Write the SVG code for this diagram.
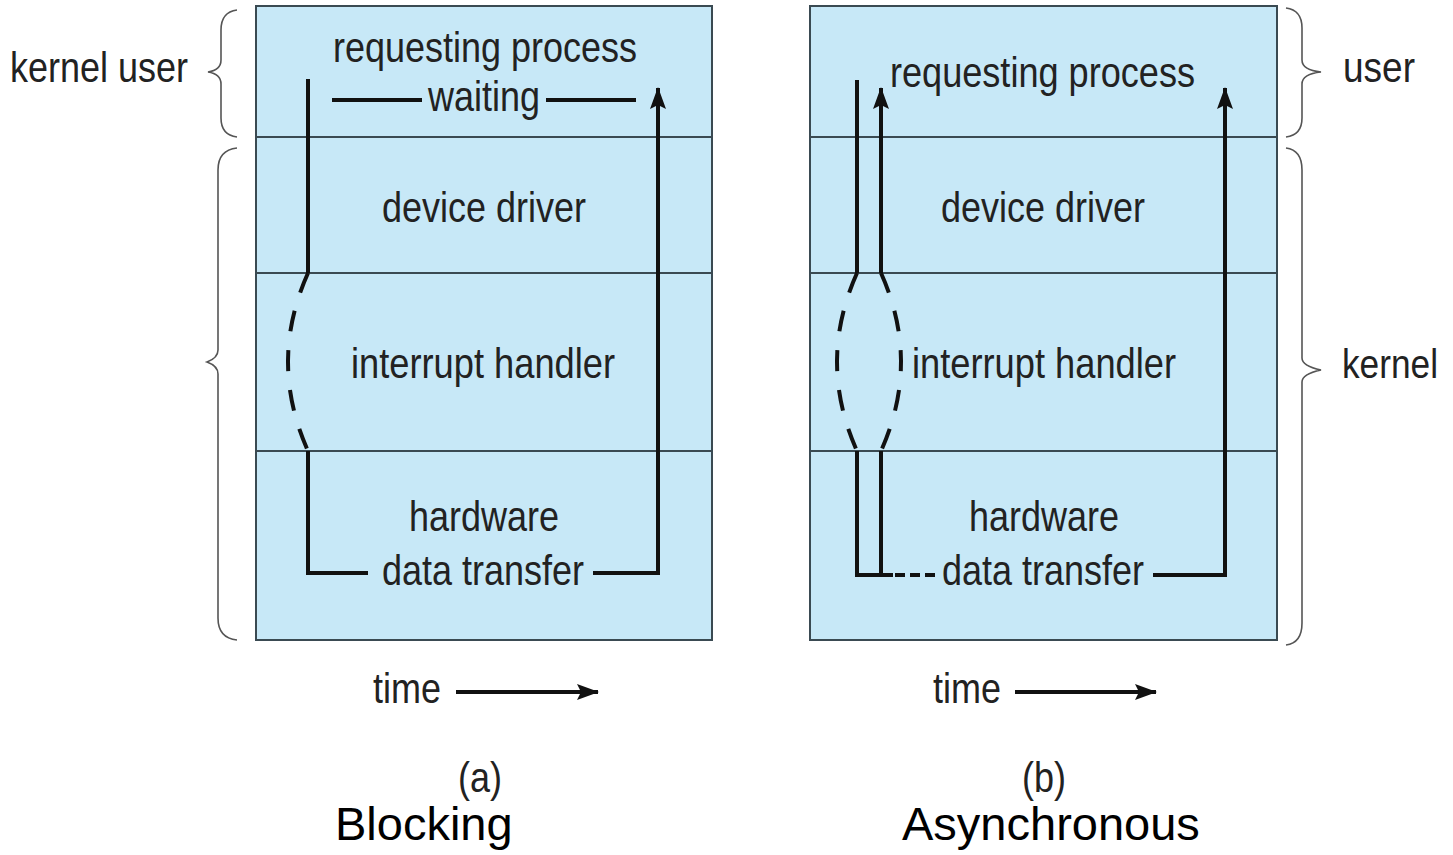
<svg xmlns="http://www.w3.org/2000/svg" width="1453" height="855" viewBox="0 0 1453 855">
<style>
.bg{fill:#ffffff}
.panel{fill:#c7e8f7;stroke:#3a4a52;stroke-width:2}
.row{stroke:#3a4a52;stroke-width:2}
.t{font-family:"Liberation Sans",Arial,sans-serif;font-size:43px;fill:#222}
.big{font-family:"Liberation Sans",Arial,sans-serif;font-size:47px;fill:#000}
.ln{fill:none;stroke:#111;stroke-width:4;stroke-linejoin:miter}
.dash{fill:none;stroke:#111;stroke-width:4;stroke-dasharray:21 19}
.brace{fill:none;stroke:#555;stroke-width:1.6}
</style>
<defs>
<marker id="ah" viewBox="0 0 22 16" refX="21" refY="8" markerWidth="22" markerHeight="16" markerUnits="userSpaceOnUse" orient="auto">
<path d="M0,0 L22,8 L0,16 L4,8 Z" fill="#111"/>
</marker>
</defs>
<rect class="bg" x="0" y="0" width="1453" height="855"/>

<g id="panel-a">
<rect class="panel" x="256" y="6" width="456" height="634"/>
<line class="row" x1="256" y1="137" x2="712" y2="137"/>
<line class="row" x1="256" y1="273" x2="712" y2="273"/>
<line class="row" x1="256" y1="451" x2="712" y2="451"/>
<text class="t" x="333" y="62" textLength="304" lengthAdjust="spacingAndGlyphs">requesting process</text>
<text class="t" x="428" y="111" textLength="112" lengthAdjust="spacingAndGlyphs">waiting</text>
<text class="t" x="382" y="222" textLength="204" lengthAdjust="spacingAndGlyphs">device driver</text>
<text class="t" x="351" y="378" textLength="264" lengthAdjust="spacingAndGlyphs">interrupt handler</text>
<text class="t" x="409" y="531" textLength="150" lengthAdjust="spacingAndGlyphs">hardware</text>
<text class="t" x="382" y="585" textLength="202" lengthAdjust="spacingAndGlyphs">data transfer</text>
</g>

<g id="panel-b">
<rect class="panel" x="810" y="6" width="467" height="634"/>
<line class="row" x1="810" y1="137" x2="1277" y2="137"/>
<line class="row" x1="810" y1="273" x2="1277" y2="273"/>
<line class="row" x1="810" y1="451" x2="1277" y2="451"/>
<text class="t" x="890" y="87" textLength="305" lengthAdjust="spacingAndGlyphs">requesting process</text>
<text class="t" x="941" y="222" textLength="204" lengthAdjust="spacingAndGlyphs">device driver</text>
<text class="t" x="912" y="378" textLength="264" lengthAdjust="spacingAndGlyphs">interrupt handler</text>
<text class="t" x="969" y="531" textLength="150" lengthAdjust="spacingAndGlyphs">hardware</text>
<text class="t" x="942" y="585" textLength="202" lengthAdjust="spacingAndGlyphs">data transfer</text>
</g>

<g id="labels">
<text class="t" x="10" y="82" textLength="178" lengthAdjust="spacingAndGlyphs">kernel user</text>
<text class="t" x="1343" y="82" textLength="72" lengthAdjust="spacingAndGlyphs">user</text>
<text class="t" x="1342" y="378" style="font-size:40px" textLength="96" lengthAdjust="spacingAndGlyphs">kernel</text>
<text class="t" x="373" y="703" textLength="68" lengthAdjust="spacingAndGlyphs">time</text>
<text class="t" x="933" y="703" textLength="68" lengthAdjust="spacingAndGlyphs">time</text>
<text class="t" x="458" y="792" textLength="44" lengthAdjust="spacingAndGlyphs">(a)</text>
<text class="t" x="1022" y="792" textLength="44" lengthAdjust="spacingAndGlyphs">(b)</text>
<text class="big" x="335" y="840">Blocking</text>
<text class="big" x="902" y="840">Asynchronous</text>
</g>

<g id="braces">
<path class="brace" d="M237,10 Q221,12 221,30 L221,60 Q221,70 208,72 Q221,74 221,84 L221,118 Q221,135 237,137"/>
<path class="brace" d="M237,148 Q218,150 218,170 L218,350 Q218,358 207,362 Q218,366 218,374 L218,618 Q218,638 237,640"/>
<path class="brace" d="M1286,8 Q1302,10 1302,28 L1302,60 Q1302,70 1321,72 Q1302,74 1302,84 L1302,118 Q1302,135 1286,137"/>
<path class="brace" d="M1286,148 Q1302,150 1302,170 L1302,358 Q1302,366 1321,370 Q1302,374 1302,382 L1302,623 Q1302,643 1286,645"/>
</g>

<g id="connectors">
<line class="ln" x1="332" y1="100" x2="422" y2="100"/>
<line class="ln" x1="546" y1="100" x2="636" y2="100"/>
<path class="ln" d="M308,79 L308,273"/>
<path class="dash" d="M308,273 Q268,362 308,451"/>
<path class="ln" d="M308,451 L308,573 L368,573"/>
<path class="ln" d="M593,573 L658,573 L658,88" marker-end="url(#ah)"/>

<path class="ln" d="M857,80 L857,273"/>
<path class="ln" d="M881,273 L881,88" marker-end="url(#ah)"/>
<path class="dash" d="M857,273 Q817,362 857,451"/>
<path class="dash" d="M881,273 Q921,362 881,451"/>
<path class="ln" d="M857,451 L857,575 L893,575"/>
<path class="ln" d="M881,451 L881,575"/>
<line class="ln" x1="895" y1="575" x2="935" y2="575" stroke-dasharray="10 5"/>
<path class="ln" d="M1153,575 L1225,575 L1225,88" marker-end="url(#ah)"/>

<line class="ln" x1="456" y1="692" x2="598" y2="692" marker-end="url(#ah)"/>
<line class="ln" x1="1015" y1="692" x2="1156" y2="692" marker-end="url(#ah)"/>
</g>
</svg>
